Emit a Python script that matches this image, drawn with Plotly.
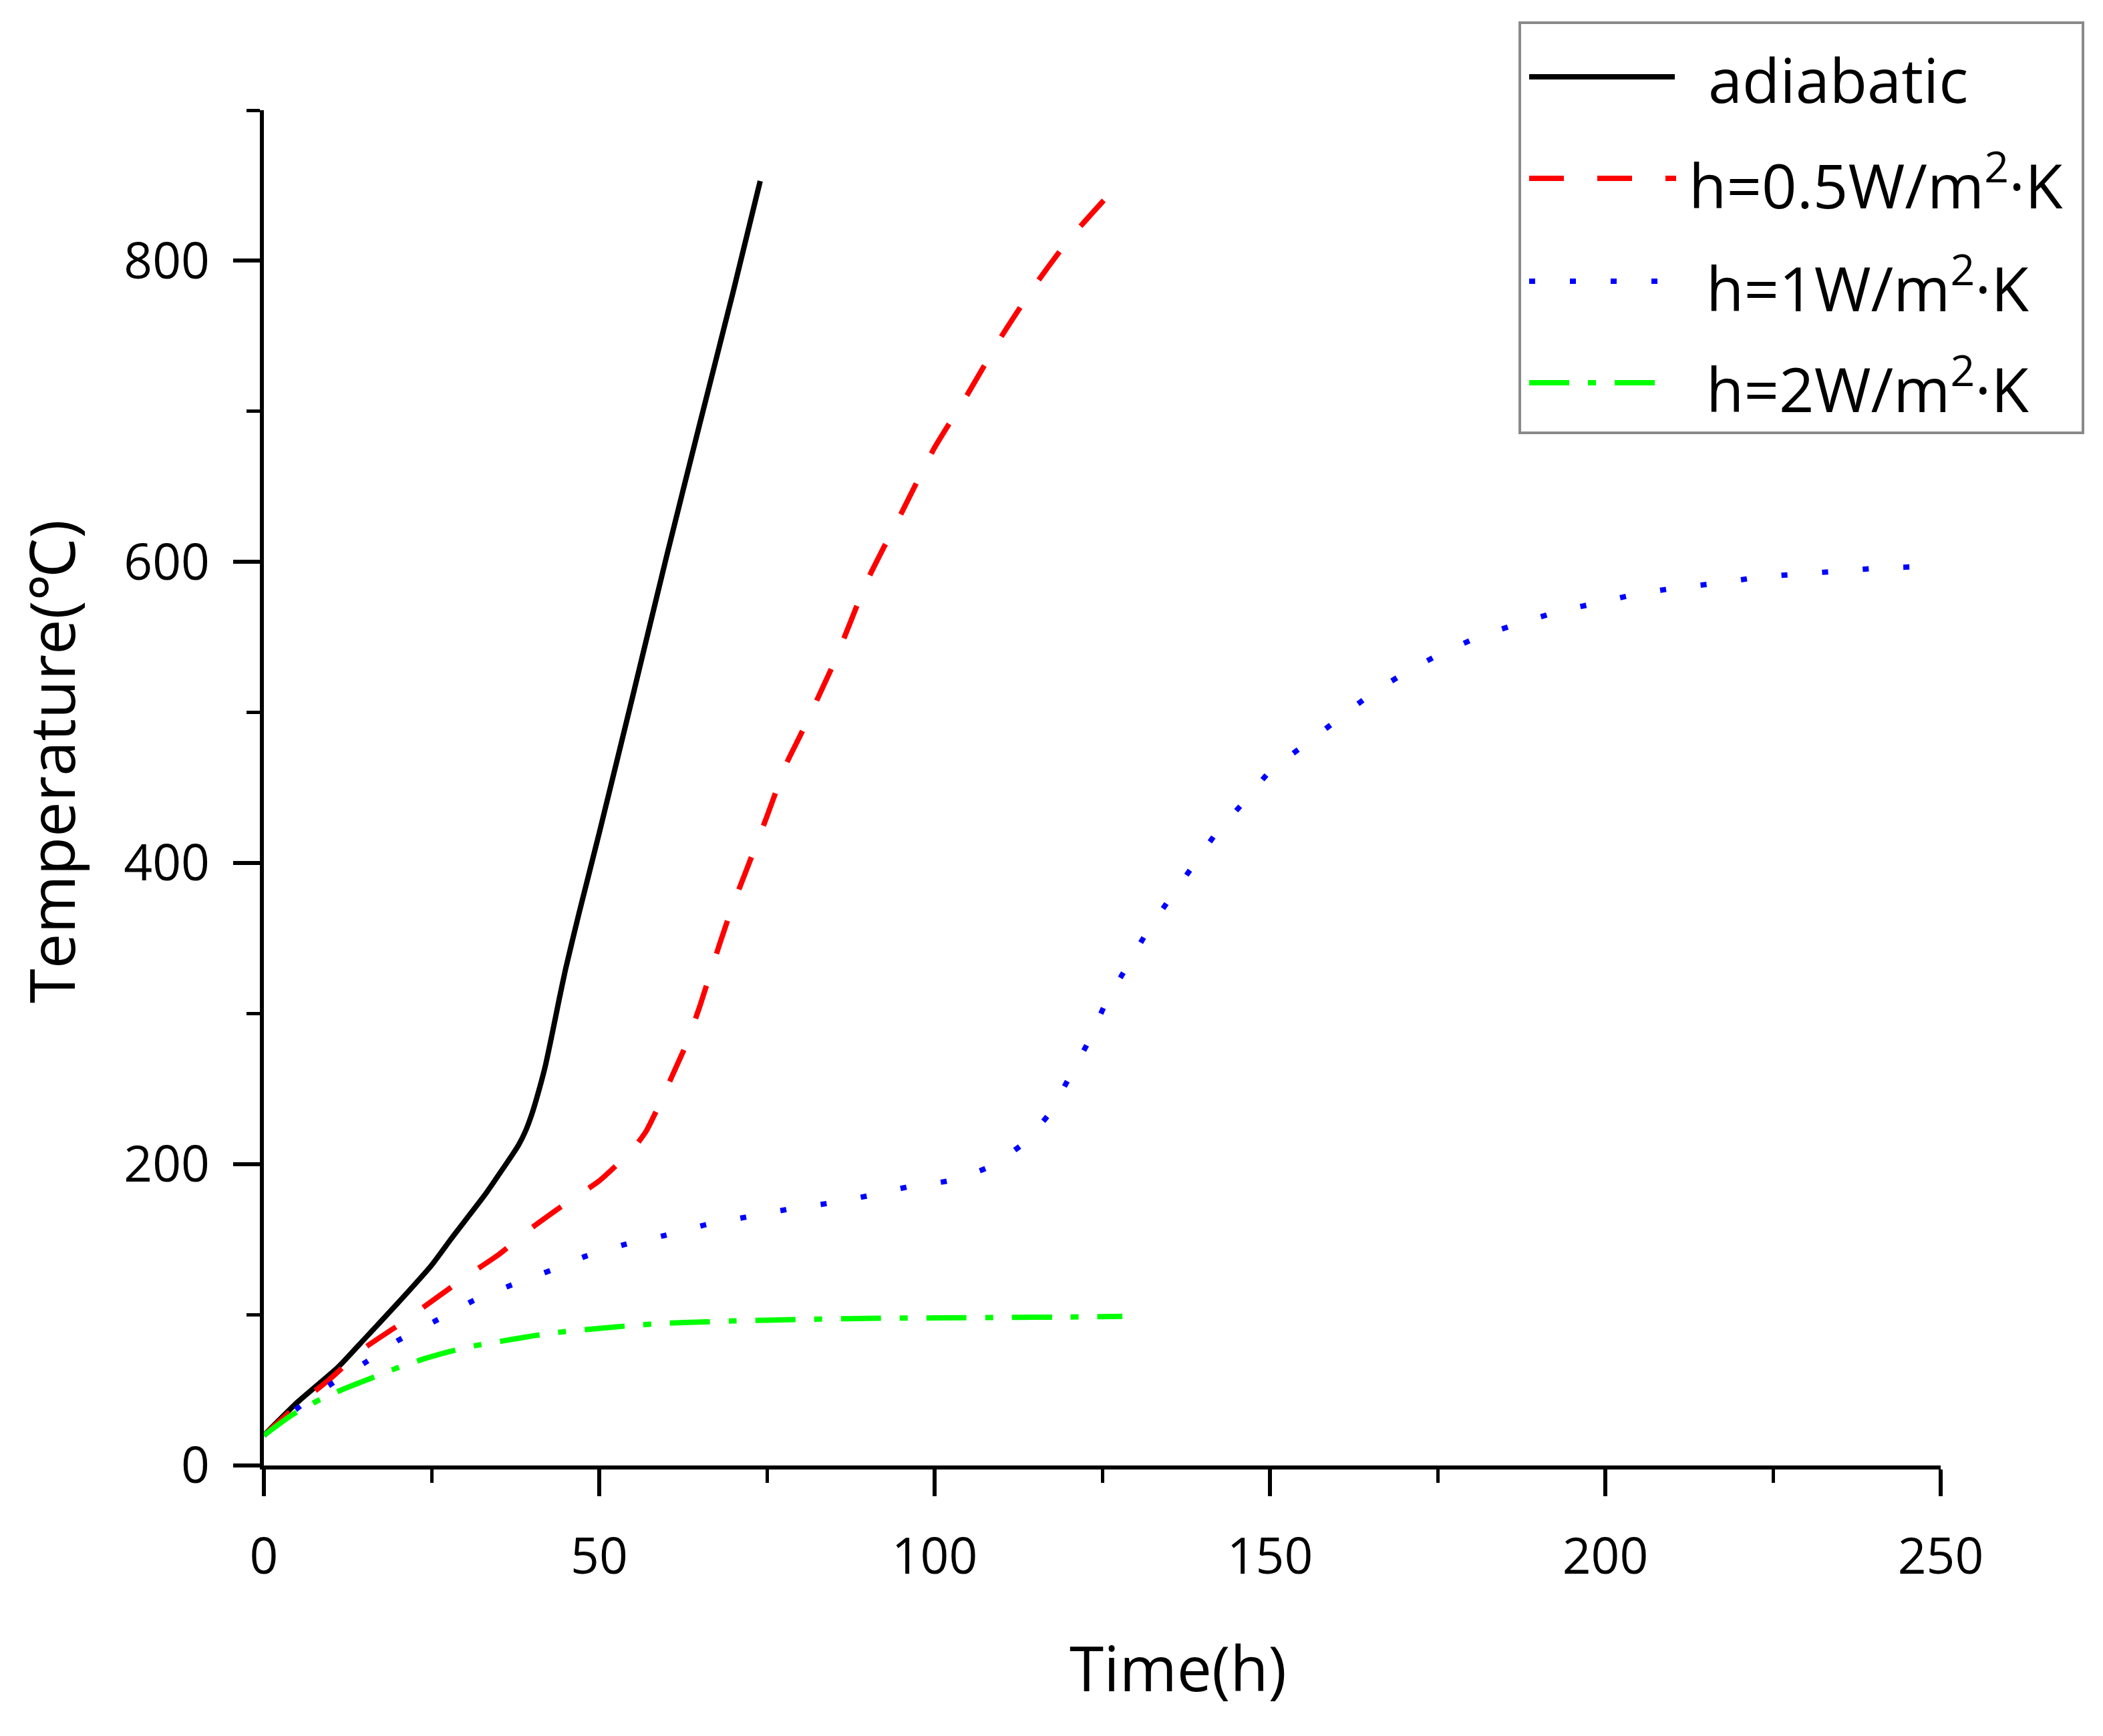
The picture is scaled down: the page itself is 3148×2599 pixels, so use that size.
import plotly.graph_objects as go

# ---- data ----
t_adiabatic = [0, 5, 11, 15, 20, 25, 28, 33, 35, 37, 38, 39, 40, 41, 42, 43, 44, 45, 47, 50, 55, 60, 65, 70, 74]
T_adiabatic = [20, 42, 65, 84, 108, 133, 151, 180, 193, 206, 213, 222, 234, 249, 266, 287, 309, 330, 367, 420, 511, 603, 692, 780, 853]

t_h05 = [0, 5, 10, 15, 20, 25, 30, 35, 40, 45, 50, 55, 57, 59, 61, 63, 65, 68, 70, 72, 75, 78, 80, 85, 90, 95, 100, 105, 110, 115, 120, 126]
T_h05 = [20, 40, 58, 78, 93, 109, 125, 140, 158, 174, 189, 210, 222, 240, 260, 280, 305, 347, 373, 396, 431, 467, 485, 533, 588, 632, 676, 712, 750, 784, 814, 844]

t_h1 = [0, 5, 10, 15, 20, 26, 31, 37, 43, 48, 54, 60, 66, 72, 78, 84, 90, 96, 102, 108, 113, 117, 120, 123, 125.5,
        128.5, 131.5, 135, 138.5, 142, 146, 150, 155, 160, 165, 170, 175, 181, 187, 193, 199, 205, 211, 217, 223,
        229, 235, 241, 248]
T_h1 = [20, 38, 54, 68, 83, 97, 109, 120, 130, 139, 147, 153, 160, 165, 170, 174, 179, 185, 189, 198, 213, 233, 257,
        282, 307, 330, 353, 376, 398, 420, 440, 461, 478, 495, 512, 526, 538, 550, 559, 567, 573, 579, 583, 586, 590,
        592, 594, 596, 597]

t_h2 = [0, 4, 8, 12, 16, 20, 24, 28, 32, 36, 40, 45, 50, 55, 60, 65, 70, 80, 90, 100, 110, 120, 128]
T_h2 = [20, 33, 43, 51, 58, 65, 71, 76, 80, 83, 86, 89, 91, 93, 94.5, 95.3, 96, 97, 97.7, 98, 98.3, 98.6, 99]

series_names = ["adiabatic", "h=0.5W/m<sup>2</sup>·K", "h=1W/m<sup>2</sup>·K", "h=2W/m<sup>2</sup>·K"]
series_colors = ["#000000", "#FF0000", "#0000FF", "#00FF00"]
series_dash = ["solid", "52px,50px", "9px,52px", "60px,28px,12px,28px"]

x_ticks = [0, 50, 100, 150, 200, 250]
y_ticks = [0, 200, 400, 600, 800]

FONT = "Open Sans, Noto Sans, DejaVu Sans, sans-serif"

# ---- figure ----
W, H = 3148, 2599
L, R, T, B = 395, 243, 165, 405
PW, PH = W - L - R, H - T - B
LW = 8


def pxx(px):
    return (px - L) / PW


def pxy(py):
    return (H - B - py) / PH


fig = go.Figure()
data = [(t_adiabatic, T_adiabatic), (t_h05, T_h05), (t_h1, T_h1), (t_h2, T_h2)]
for (xs, ys), name, col, dash in zip(data, series_names, series_colors, series_dash):
    fig.add_trace(go.Scatter(
        x=xs, y=ys, mode="lines", name=name, showlegend=False,
        line=dict(color=col, width=LW, dash=dash, shape="spline", smoothing=0.5),
    ))

axis_common = dict(
    showline=True, linewidth=6, linecolor="black", mirror=False,
    showgrid=False, zeroline=False,
    ticks="outside", ticklen=40, tickwidth=6, tickcolor="black",
    tickfont=dict(family=FONT, size=75, color="black"),
)

fig.update_xaxes(range=[0, 250], tickmode="array", tickvals=x_ticks,
                 minor=dict(ticks="outside", dtick=25, ticklen=20, tickwidth=5, tickcolor="black", showgrid=False),
                 ticklabelstandoff=26, **axis_common)
fig.update_yaxes(range=[0, 900], tickmode="array", tickvals=y_ticks,
                 minor=dict(ticks="outside", dtick=100, ticklen=20, tickwidth=5, tickcolor="black", showgrid=False),
                 ticklabelstandoff=20, **axis_common)

annotations = [
    dict(text="Time(h)", x=pxx(1763), y=pxy(2496), xref="paper", yref="paper",
         xanchor="center", yanchor="middle", showarrow=False,
         font=dict(family=FONT, size=93, color="black")),
    dict(text="Temperature(℃)", x=pxx(76), y=pxy(1140), xref="paper", yref="paper",
         xanchor="center", yanchor="middle", showarrow=False, textangle=-90,
         font=dict(family=FONT, size=94, color="black")),
]

shapes = [
    dict(type="rect", xref="paper", yref="paper",
         x0=pxx(2275), x1=pxx(3118), y0=pxy(648), y1=pxy(34),
         line=dict(color="#8a8a8a", width=4), fillcolor="white", layer="above"),
]

leg_rows = [115, 267, 421, 573]
leg_line_end = [2507, 2509, 2487, 2480]
leg_text_x = [2555, 2526, 2552, 2552]
for i in range(4):
    shapes.append(dict(type="line", xref="paper", yref="paper",
                       x0=pxx(2289), x1=pxx(leg_line_end[i]), y0=pxy(leg_rows[i]), y1=pxy(leg_rows[i]),
                       line=dict(color=series_colors[i], width=LW, dash=series_dash[i]), layer="above"))
    annotations.append(dict(text=series_names[i], x=pxx(leg_text_x[i]), y=pxy(leg_rows[i] + 4),
                            xref="paper", yref="paper", xanchor="left", yanchor="middle",
                            showarrow=False, font=dict(family=FONT, size=92, color="black")))

fig.update_layout(
    width=W, height=H, autosize=False,
    margin=dict(l=L, r=R, t=T, b=B, pad=0),
    paper_bgcolor="white", plot_bgcolor="white",
    showlegend=False,
    annotations=annotations, shapes=shapes,
)

fig.write_html("out.html", config={"displayModeBar": False},
               post_script="document.body.style.margin='0';")
